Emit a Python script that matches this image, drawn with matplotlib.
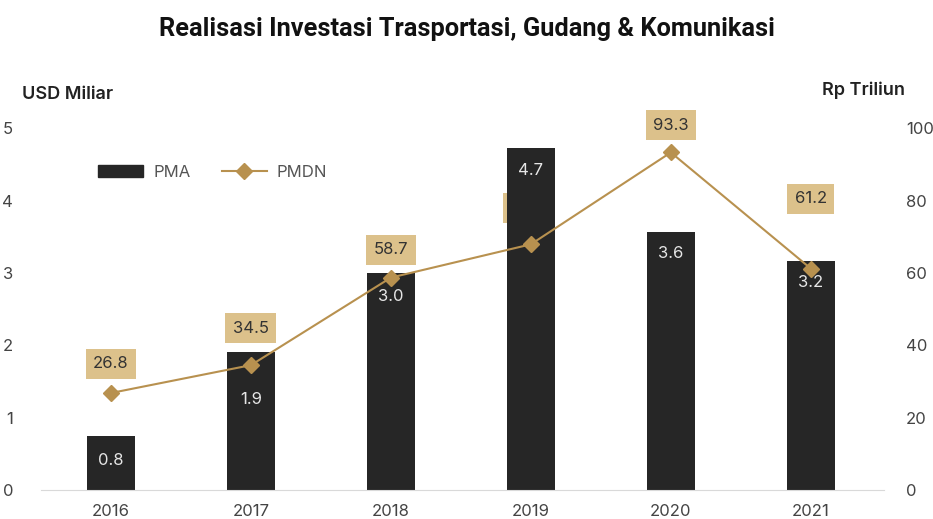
import numpy as np
import matplotlib.pyplot as plt
from matplotlib.patches import Patch
from matplotlib.lines import Line2D

plt.rcParams['font.family'] = ['Inter', 'DejaVu Sans']

years = ['2016', '2017', '2018', '2019', '2020', '2021']
pma = [0.75, 1.9, 3.0, 4.72, 3.56, 3.16]          # USD miliar
pma_labels = ['0.8', '1.9', '3.0', '4.7', '3.6', '3.2']
pmdn = [26.8, 34.5, 58.7, 67.9, 93.3, 61.2]       # Rp triliun

bar_color = '#262626'
line_color = '#b8914f'
box_color = '#dcc18b'

fig = plt.figure(figsize=(9.33, 5.19), dpi=100)
ax = fig.add_axes([0.044, 0.056, 0.9, 0.697])
ax2 = ax.twinx()

x = np.arange(len(years))

# label axis goes behind the bars so the 2019 label hides under its bar
ax.set_zorder(2)
ax.patch.set_visible(False)
ax2.set_zorder(1)

ax.bar(x, pma, width=0.34, color=bar_color, zorder=2)

# line on top of the bars, labels stay underneath
ax_top = fig.add_axes(ax.get_position(), sharex=ax)
ax_top.set_zorder(3)
ax_top.patch.set_visible(False)
ax_top.plot(x, pmdn, color=line_color, lw=1.5, marker='D', markersize=8,
            markeredgecolor=line_color)
ax_top.set_ylim(0, 100)
ax_top.axis('off')

ax.set_ylim(0, 5)
ax2.set_ylim(0, 100)
ax.set_xlim(-0.5, len(years) - 0.5)

# PMDN labels (behind bars)
pmdn_offsets = [(0, 29), (0, 37), (0, 28), (-3, 36), (0, 27), (0, 70)]
for xi, v, off in zip(x, pmdn, pmdn_offsets):
    ax2.annotate(f'{v:.1f}', (xi, v), xytext=off, textcoords='offset pixels',
                 ha='center', va='center', fontsize=12, color='#333333',
                 bbox=dict(boxstyle='square,pad=0.45', fc=box_color, ec='none'),
                 zorder=4, annotation_clip=False)

# PMA labels inside bars
pma_offsets = [25, 47, 24, 22, 21, 21]
for xi, v, lab, off in zip(x, pma, pma_labels, pma_offsets):
    ax.annotate(lab, (xi, v), xytext=(0, -off), textcoords='offset pixels',
                ha='center', va='center', fontsize=12, color='#e6e6e6', zorder=5)

for a in (ax, ax2):
    for s in a.spines.values():
        s.set_visible(False)
ax.spines['bottom'].set_visible(True)
ax.spines['bottom'].set_color('#d9d9d9')
ax.spines['bottom'].set_bounds(-0.5, 5.52)

ax.set_xticks(x)
ax.set_xticklabels(years)
ax.set_yticks(range(0, 6))
ax2.set_yticks(range(0, 101, 20))
ax.tick_params(axis='x', length=0, pad=10, labelsize=12, labelcolor='#444444')
ax.tick_params(axis='y', length=0, pad=20, labelsize=12, labelcolor='#444444')
ax2.tick_params(axis='y', length=0, pad=18, labelsize=12, labelcolor='#444444')

fig.text(0.5, 0.945, 'Realisasi Investasi Trasportasi, Gudang & Komunikasi',
         ha='center', va='center', fontsize=18.3, fontweight='bold',
         family=['Roboto', 'DejaVu Sans'], color='#111111')
fig.text(0.024, 0.817, 'USD Miliar', ha='left', va='center', fontsize=13,
         fontweight='semibold', color='#222222')
fig.text(0.97, 0.827, 'Rp Triliun', ha='right', va='center', fontsize=13,
         fontweight='semibold', color='#222222')

handles = [Patch(color=bar_color, label='PMA'),
           Line2D([], [], color=line_color, lw=1.5, marker='D', markersize=8,
                  label='PMDN')]
fig.legend(handles=handles, ncol=2, loc='center left',
           bbox_to_anchor=(0.089, 0.668), frameon=False, fontsize=12,
           handlelength=2.7, handleheight=0.7, columnspacing=1.9,
           handletextpad=0.6, labelcolor='#555555')

fig.savefig('out.png', dpi=100)
